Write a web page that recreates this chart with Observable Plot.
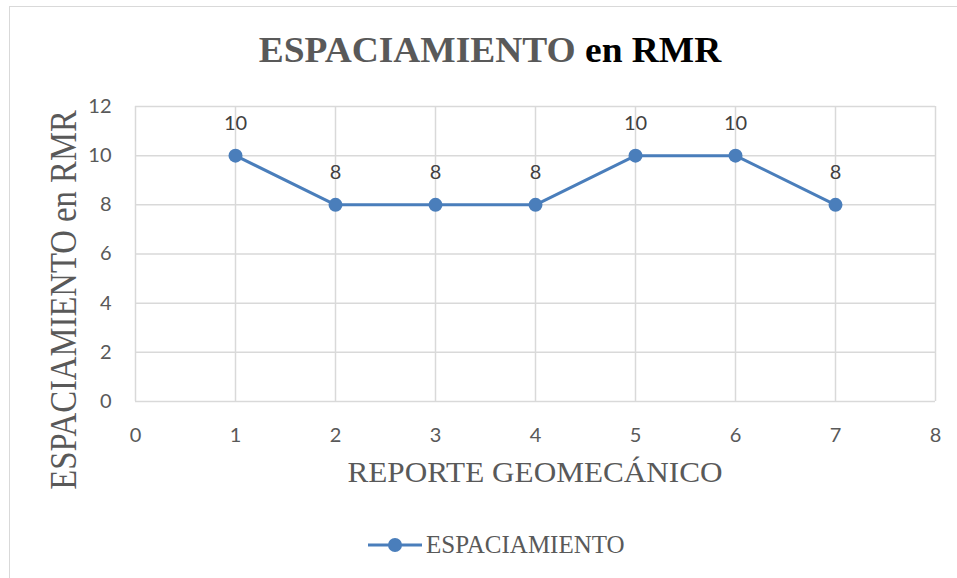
<!DOCTYPE html>
<html>
<head>
<meta charset="utf-8">
<script src="https://cdn.jsdelivr.net/npm/d3@7"></script>
<script src="https://cdn.jsdelivr.net/npm/@observablehq/plot@0.6"></script>
<style>
  html, body { margin: 0; padding: 0; background: #fff; }
  #wrap { position: relative; width: 957px; height: 578px; overflow: hidden; background: #fff; }
  #border { position: absolute; left: 9px; top: 6px; right: -2px; bottom: -2px; border-left: 1.5px solid #d9d9d9; border-top: 1.5px solid #d9d9d9; }
  #title { position: absolute; left: 490px; top: 50px; transform: translate(-50%, -50%) scaleX(1.04); font-family: "Liberation Serif", "Times New Roman", serif; font-weight: bold; font-size: 36px; color: #595959; white-space: nowrap; }
  #title b { color: #000; }
  #ylab { position: absolute; left: 63px; top: 300px; transform: translate(-50%, -50%) rotate(-90deg) scaleX(0.86); font-family: "Liberation Serif", serif; font-size: 38px; color: #595959; white-space: nowrap; }
  #xlab { position: absolute; left: 535px; top: 472px; transform: translate(-50%, -50%) scaleX(1.04); font-family: "Liberation Serif", serif; font-size: 30px; color: #595959; white-space: nowrap; }
  #legend { position: absolute; left: 368px; top: 545px; transform: translateY(-50%); display: flex; align-items: center; font-family: "Liberation Serif", serif; font-size: 25px; color: #595959; white-space: nowrap; }
  #legend svg { margin-right: 4px; }
  svg.plot { position: absolute; left: 0; top: 0; }
</style>
</head>
<body>
<div id="wrap">
  <div id="border"></div>
  <div id="title">ESPACIAMIENTO <b>en RMR</b></div>
  <div id="ylab">ESPACIAMIENTO en RMR</div>
  <div id="xlab">REPORTE GEOMECÁNICO</div>
  <div id="legend"><svg width="54" height="16"><line x1="0" y1="8" x2="54" y2="8" stroke="#4a7ebb" stroke-width="3"/><circle cx="27" cy="8" r="7" fill="#4a7ebb"/></svg><span>ESPACIAMIENTO</span></div>
</div>
<script>
const reportes = [1, 2, 3, 4, 5, 6, 7];
const espaciamiento = [10, 8, 8, 8, 10, 10, 8];
const xTicks = [0, 1, 2, 3, 4, 5, 6, 7, 8];
const yTicks = [0, 2, 4, 6, 8, 10, 12];

const data = reportes.map((r, i) => ({x: r, y: espaciamiento[i]}));
const color = "#4a7ebb";
const tickFont = "Lato, 'Open Sans', sans-serif";

const chart = Plot.plot({
  width: 957,
  height: 578,
  marginLeft: 135,
  marginRight: 22,
  marginTop: 106,
  marginBottom: 177,
  style: {fontFamily: tickFont, fontSize: "20px", color: "#595959", background: "transparent"},
  x: {domain: [0, 8], ticks: xTicks},
  y: {domain: [0, 12], ticks: yTicks},
  marks: [
    Plot.gridX(xTicks, {stroke: "#d9d9d9", strokeOpacity: 1, strokeWidth: 1.5}),
    Plot.gridY(yTicks, {stroke: "#d9d9d9", strokeOpacity: 1, strokeWidth: 1.5}),
    Plot.axisX(xTicks, {tickSize: 0, tickPadding: 26, label: null, fill: "#595959", fontSize: 20}),
    Plot.axisY(yTicks, {tickSize: 0, tickPadding: 24, label: null, fill: "#595959", fontSize: 20}),
    Plot.line(data, {x: "x", y: "y", stroke: color, strokeWidth: 3}),
    Plot.dot(data, {x: "x", y: "y", r: 7, fill: color, stroke: null}),
    Plot.text(data, {x: "x", y: "y", text: d => String(d.y), dy: -32, fill: "#404040", fontSize: 20, fontFamily: tickFont})
  ]
});
chart.classList.add("plot");
document.getElementById("wrap").insertBefore(chart, document.getElementById("title"));
</script>
</body>
</html>
